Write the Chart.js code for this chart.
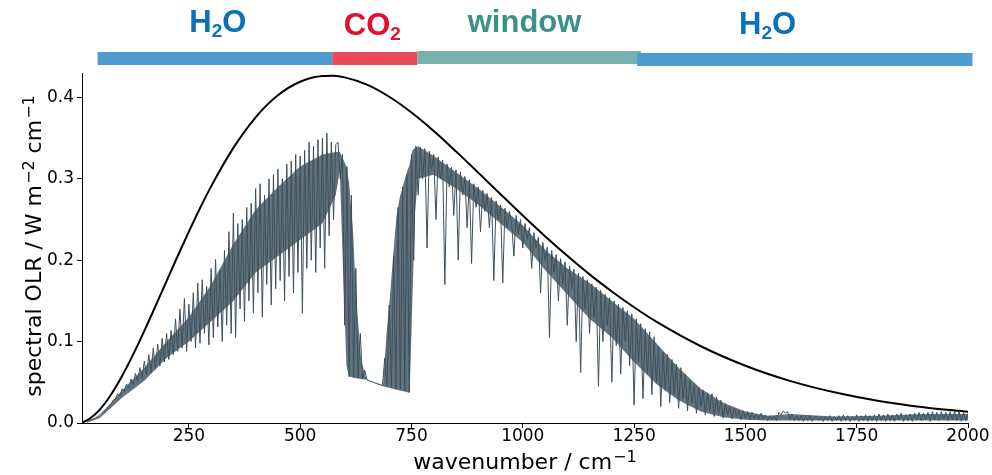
<!DOCTYPE html>
<html>
<head>
<meta charset="utf-8">
<script src="https://cdn.jsdelivr.net/npm/chart.js@4.4.0/dist/chart.umd.min.js"></script>
<style>
  html, body { margin: 0; padding: 0; background: #fff; }
  #wrap { width: 992px; height: 475px; position: relative; }
</style>
</head>
<body>
<div id="wrap"><canvas id="chart"></canvas></div>
<script>
// Planck curve (black)
const planckWavenumber = [10, 25, 50, 75, 100, 125, 150, 175, 200, 225, 250, 275, 300, 350, 400, 450, 500, 550, 575, 600,
  650, 700, 750, 800, 850, 900, 950, 1000, 1050, 1100, 1150, 1200, 1250, 1300, 1400, 1500, 1600, 1700, 1800, 1900, 2000];
const planckOLR = [0.0007, 0.0044, 0.0165, 0.0347, 0.0577, 0.0843, 0.1132, 0.1435, 0.1744, 0.2052, 0.2351, 0.2638, 0.2907, 0.3380, 0.3756, 0.4026, 0.4192, 0.4262, 0.4265, 0.4246,
  0.4157, 0.4008, 0.3815, 0.3588, 0.3337, 0.3076, 0.2811, 0.2549, 0.2295, 0.2054, 0.1826, 0.1616, 0.1422, 0.1245, 0.0943, 0.0704, 0.0518, 0.0377, 0.0271, 0.0194, 0.0137];

// spectral OLR lines, one value every 5 cm-1 starting at 10 cm-1 (one row = 50 cm-1)
const olrStart = 10;
const olrStep = 5;
const spectralOLR = [
  0.0003, 0.001, 0.002, 0.003, 0.004, 0.005, 0.006, 0.008, 0.010, 0.013,
  0.015, 0.018, 0.021, 0.023, 0.028, 0.029, 0.036, 0.033, 0.042, 0.039,
  0.048, 0.043, 0.054, 0.047, 0.061, 0.051, 0.068, 0.055, 0.076, 0.059,
  0.084, 0.062, 0.092, 0.066, 0.097, 0.070, 0.104, 0.075, 0.110, 0.078,
  0.114, 0.084, 0.128, 0.088, 0.140, 0.092, 0.153, 0.088, 0.146, 0.100,
  0.160, 0.092, 0.172, 0.098, 0.176, 0.110, 0.168, 0.096, 0.190, 0.105,
  0.201, 0.118, 0.188, 0.100, 0.212, 0.120, 0.235, 0.110, 0.258, 0.105,
  0.245, 0.140, 0.250, 0.125, 0.265, 0.150, 0.270, 0.135, 0.288, 0.160,
  0.294, 0.130, 0.280, 0.170, 0.300, 0.145, 0.305, 0.165, 0.312, 0.175,
  0.300, 0.150, 0.318, 0.180, 0.322, 0.160, 0.330, 0.185, 0.328, 0.135,
  0.335, 0.190, 0.345, 0.200, 0.340, 0.185, 0.348, 0.215, 0.350, 0.190,
  0.356, 0.230, 0.345, 0.250, 0.342, 0.345, 0.300, 0.330, 0.120, 0.315,
  0.057, 0.280, 0.056, 0.190, 0.055, 0.110, 0.054, 0.065, 0.053, 0.052,
  0.051, 0.050, 0.049, 0.048, 0.047, 0.046, 0.080, 0.045, 0.145, 0.043,
  0.205, 0.042, 0.265, 0.041, 0.290, 0.040, 0.305, 0.038, 0.330, 0.200,
  0.340, 0.280, 0.339, 0.300, 0.337, 0.215, 0.334, 0.310, 0.330, 0.250,
  0.327, 0.300, 0.323, 0.170, 0.318, 0.290, 0.314, 0.255, 0.311, 0.200,
  0.308, 0.280, 0.303, 0.240, 0.299, 0.196, 0.294, 0.265, 0.290, 0.235,
  0.286, 0.260, 0.282, 0.240, 0.277, 0.175, 0.273, 0.250, 0.268, 0.172,
  0.264, 0.240, 0.260, 0.245, 0.205, 0.255, 0.232, 0.250, 0.215, 0.245,
  0.226, 0.240, 0.190, 0.234, 0.215, 0.228, 0.160, 0.222, 0.200, 0.216,
  0.105, 0.212, 0.185, 0.207, 0.150, 0.202, 0.170, 0.198, 0.120, 0.193,
  0.165, 0.189, 0.100, 0.184, 0.062, 0.180, 0.140, 0.176, 0.110, 0.171,
  0.130, 0.167, 0.045, 0.163, 0.100, 0.158, 0.120, 0.154, 0.050, 0.150,
  0.095, 0.146, 0.060, 0.142, 0.100, 0.138, 0.070, 0.134, 0.022, 0.128,
  0.075, 0.122, 0.030, 0.116, 0.060, 0.112, 0.035, 0.106, 0.050, 0.094,
  0.020, 0.087, 0.040, 0.084, 0.025, 0.078, 0.035, 0.072, 0.018, 0.068,
  0.030, 0.060, 0.015, 0.052, 0.025, 0.047, 0.012, 0.044, 0.020, 0.040,
  0.010, 0.037, 0.015, 0.036, 0.008, 0.032, 0.012, 0.028, 0.006, 0.024,
  0.010, 0.020, 0.005, 0.018, 0.008, 0.016, 0.004, 0.015, 0.006, 0.014,
  0.004, 0.013, 0.005, 0.011, 0.004, 0.012, 0.005, 0.010, 0.003, 0.009,
  0.004, 0.008, 0.003, 0.013, 0.010, 0.015, 0.012, 0.014, 0.004, 0.011,
  0.003, 0.009, 0.003, 0.009, 0.002, 0.008, 0.003, 0.009, 0.002, 0.007,
  0.008, 0.003, 0.007, 0.002, 0.008, 0.003, 0.009, 0.002, 0.008, 0.003,
  0.009, 0.002, 0.010, 0.003, 0.009, 0.002, 0.008, 0.003, 0.010, 0.002,
  0.009, 0.003, 0.010, 0.002, 0.009, 0.003, 0.010, 0.002, 0.011, 0.003,
  0.010, 0.002, 0.011, 0.003, 0.010, 0.002, 0.011, 0.004, 0.012, 0.002,
  0.010, 0.003, 0.011, 0.002, 0.012, 0.004, 0.013, 0.003, 0.012, 0.004,
  0.013, 0.002, 0.014, 0.004, 0.013, 0.003, 0.014, 0.005, 0.013, 0.003,
  0.014, 0.004, 0.015, 0.003, 0.014, 0.002, 0.013, 0.003, 0.012
];

// where the lines are packed so densely they read as a solid mass
const coreWavenumber = [20, 50, 100, 150, 200, 250, 300, 350, 400, 450, 500, 550, 580, 589, 596, 604, 610, 619, 626, 637, 649,
  686, 694, 701, 708, 716, 724, 739, 746, 752, 758, 765, 800, 850, 900, 950, 1000, 1050, 1100, 1150, 1200, 1250, 1300, 1350, 1400, 1450, 1500,
  1550, 1600, 1700, 1800, 1900, 2000];
const coreTop = [0.001, 0.009, 0.040, 0.068, 0.100, 0.130, 0.170, 0.220, 0.262, 0.290, 0.315, 0.330, 0.333, 0.333, 0.325, 0.315, 0.295, 0.233, 0.151, 0.077, 0.053,
  0.046, 0.110, 0.151, 0.200, 0.253, 0.278, 0.307, 0.318, 0.335, 0.338, 0.340, 0.328, 0.308, 0.288, 0.266, 0.243, 0.213, 0.190, 0.172, 0.150, 0.128, 0.098, 0.068, 0.042, 0.025, 0.014,
  0.009, 0.011, 0.008, 0.009, 0.011, 0.011];
const coreBottom = [0.000, 0.006, 0.031, 0.052, 0.080, 0.100, 0.125, 0.150, 0.185, 0.205, 0.225, 0.245, 0.280, 0.310, 0.193, 0.070, 0.057, 0.056, 0.055, 0.054, 0.053,
  0.045, 0.044, 0.043, 0.042, 0.041, 0.040, 0.038, 0.037, 0.150, 0.260, 0.300, 0.305, 0.288, 0.268, 0.245, 0.222, 0.188, 0.158, 0.128, 0.105, 0.075, 0.048, 0.028, 0.014, 0.007, 0.004,
  0.003, 0.003, 0.003, 0.003, 0.003, 0.003];

// absorber bands across the top (wavenumber ranges) and where their names sit
const bandLabels = ["H₂O", "CO₂", "window", "H₂O"];
const bandStart = [45, 572, 763, 1257];
const bandEnd = [572, 763, 1265, 2010];
const bandLabelAt = [315, 662, 1004, 1550];

const xTicks = [250, 500, 750, 1000, 1250, 1500, 1750, 2000];
const yTicks = [0, 0.1, 0.2, 0.3, 0.4];
const xTitle = [{ text: "wavenumber / cm" }, { text: "−1", sup: true }];
const yTitle = [{ text: "spectral OLR / W m" }, { text: "−2", sup: true }, { text: " cm" }, { text: "−1", sup: true }];

// styles
const OLR_COLOR = "#3c505c";
const CORE_FILL = "rgba(60, 80, 92, 0.8)";
const BAND_FILL = ["#4f9bd0", "#ea4c5e", "#76b1ad", "#4f9bd0"];
const BAND_TOP = [52, 52, 51, 53];
const LABEL_COLOR = ["#0b71b9", "#e0102e", "#3a918a", "#0b71b9"];
const LABEL_BASE = [32, 35, 32, 34];
const LABEL_FONT = 31;
const SUB_FONT = 19;
const AXIS_FONT = "DejaVu Sans";
const TITLE_SIZE = 22;
const SUP_SIZE = 16;

const olrPoints = spectralOLR.map((v, i) => ({ x: olrStart + i * olrStep, y: v }));
const planckPoints = planckWavenumber.map((w, i) => ({ x: w, y: planckOLR[i] }));
const coreTopPoints = coreWavenumber.map((w, i) => ({ x: w, y: coreTop[i] }));
const coreBottomPoints = coreWavenumber.map((w, i) => ({ x: w, y: coreBottom[i] }));

function splitSub(text) {
  // turn "H₂O" into runs of normal / subscript text
  const runs = [];
  for (const ch of text) {
    const code = ch.charCodeAt(0);
    const sub = code >= 0x2080 && code <= 0x2089;
    const c = sub ? String.fromCharCode(code - 0x2080 + 48) : ch;
    if (runs.length && runs[runs.length - 1].sub === sub) {
      runs[runs.length - 1].text += c;
    } else {
      runs.push({ text: c, sub: sub });
    }
  }
  return runs;
}

function drawLabel(ctx, text, cx, baseline, color) {
  const runs = splitSub(text);
  let total = 0;
  runs.forEach(r => {
    ctx.font = "bold " + (r.sub ? SUB_FONT : LABEL_FONT) + "px 'Liberation Sans', Arial, sans-serif";
    r.w = ctx.measureText(r.text).width;
    total += r.w;
  });
  let x = cx - total / 2;
  ctx.fillStyle = color;
  ctx.textBaseline = "alphabetic";
  ctx.textAlign = "left";
  runs.forEach(r => {
    ctx.font = "bold " + (r.sub ? SUB_FONT : LABEL_FONT) + "px 'Liberation Sans', Arial, sans-serif";
    ctx.fillText(r.text, x, baseline + (r.sub ? 5 : 0));
    x += r.w;
  });
}

// axis title with raised exponents, centred on (0,0) baseline
function drawTitle(ctx, runs) {
  let total = 0;
  runs.forEach(r => {
    ctx.font = (r.sup ? SUP_SIZE : TITLE_SIZE) + "px '" + AXIS_FONT + "'";
    r.w = ctx.measureText(r.text).width + (r.sup ? 1 : 0);
    total += r.w;
  });
  let x = -total / 2;
  ctx.fillStyle = "#000";
  ctx.textBaseline = "alphabetic";
  ctx.textAlign = "left";
  runs.forEach(r => {
    ctx.font = (r.sup ? SUP_SIZE : TITLE_SIZE) + "px '" + AXIS_FONT + "'";
    ctx.fillText(r.text, x + (r.sup ? 1 : 0), r.sup ? -7 : 0);
    x += r.w;
  });
}

const decorPlugin = {
  id: "decor",
  afterDraw(chart) {
    const ctx = chart.ctx;
    const xs = chart.scales.x;
    const area = chart.chartArea;
    ctx.save();
    bandStart.forEach((start, i) => {
      const x0 = xs.getPixelForValue(start);
      const x1 = xs.getPixelForValue(bandEnd[i]);
      ctx.fillStyle = BAND_FILL[i];
      ctx.fillRect(x0, BAND_TOP[i], x1 - x0, 13);
    });
    bandLabels.forEach((label, i) => {
      drawLabel(ctx, label, xs.getPixelForValue(bandLabelAt[i]), LABEL_BASE[i], LABEL_COLOR[i]);
    });
    ctx.restore();

    ctx.save();
    ctx.translate((area.left + area.right) / 2, 469);
    drawTitle(ctx, xTitle);
    ctx.restore();

    ctx.save();
    ctx.translate(41, (area.top + area.bottom) / 2 - 2);
    ctx.rotate(-Math.PI / 2);
    drawTitle(ctx, yTitle);
    ctx.restore();
  }
};

new Chart(document.getElementById("chart").getContext("2d"), {
  type: "line",
  data: {
    datasets: [
      {
        label: "Planck",
        data: planckPoints,
        borderColor: "#000",
        borderWidth: 2,
        pointRadius: 0,
        cubicInterpolationMode: "monotone",
        fill: false
      },
      {
        label: "spectral OLR",
        data: olrPoints,
        borderColor: OLR_COLOR,
        borderWidth: 1,
        pointRadius: 0,
        tension: 0,
        fill: false
      },
      {
        label: "dense lines top",
        data: coreTopPoints,
        borderWidth: 0,
        borderColor: "rgba(0,0,0,0)",
        backgroundColor: CORE_FILL,
        pointRadius: 0,
        tension: 0,
        fill: "+1"
      },
      {
        label: "dense lines bottom",
        data: coreBottomPoints,
        borderWidth: 0,
        borderColor: "rgba(0,0,0,0)",
        pointRadius: 0,
        tension: 0,
        fill: false
      }
    ]
  },
  options: {
    responsive: true,
    maintainAspectRatio: false,
    animation: false,
    events: [],
    layout: { padding: { top: 73, right: 24, left: 0, bottom: 0 } },
    plugins: {
      legend: { display: false },
      tooltip: { enabled: false }
    },
    scales: {
      x: {
        type: "linear",
        min: 10,
        max: 2000,
        afterBuildTicks: s => { s.ticks = xTicks.map(v => ({ value: v })); },
        afterFit: s => { s.height = 52; },
        ticks: {
          callback: v => String(v),
          font: { family: AXIS_FONT, size: 17 },
          color: "#000",
          padding: -2,
          maxRotation: 0,
          autoSkip: false
        },
        grid: { drawOnChartArea: false, tickLength: 5, color: "#000", tickColor: "#000" },
        border: { color: "#000", width: 1 }
      },
      y: {
        type: "linear",
        min: 0,
        max: 0.43,
        afterBuildTicks: s => { s.ticks = yTicks.map(v => ({ value: v })); },
        afterFit: s => { s.width = 82; },
        ticks: {
          callback: v => v.toFixed(1),
          font: { family: AXIS_FONT, size: 17 },
          color: "#000",
          padding: 3
        },
        grid: { drawOnChartArea: false, tickLength: 5, color: "#000", tickColor: "#000" },
        border: { color: "#000", width: 1 }
      }
    }
  },
  plugins: [decorPlugin]
});
</script>
</body>
</html>
